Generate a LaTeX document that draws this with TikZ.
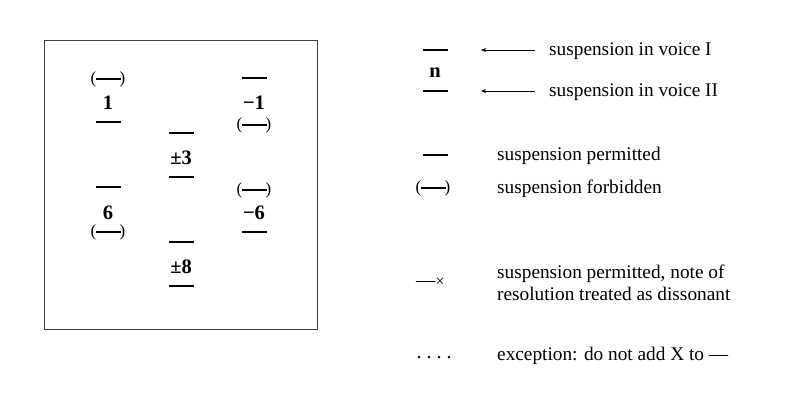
\documentclass[tikz,border=0pt]{standalone}
\usepackage{fontspec}
\setmainfont{Liberation Serif}
\usetikzlibrary{arrows.meta}
\tikzset{
  frame/.style={draw=black!75, line width=1pt},
  bar/.style={fill=black, minimum width=25pt, minimum height=2.6pt, inner sep=0pt, outer sep=0pt},
  plab/.style={inner sep=0pt, font=\fontsize{17}{19}\selectfont},
  pbar/.style={bar, label={[plab, anchor=east, xshift=1pt]west:{(}}, label={[plab, anchor=west, xshift=-1pt]east:{)}}},
  num/.style={inner sep=0pt, font=\fontsize{20.5}{23}\selectfont\bfseries},
  txt/.style={inner sep=0pt, anchor=west, font=\fontsize{19.3}{22}\selectfont},
  arr/.style={-{Stealth[length=5pt, width=4pt]}, line width=0.8pt},
}
\begin{document}
\begin{tikzpicture}[x=1pt, y=-1pt]
\useasboundingbox (0,0) rectangle (800,400);
\draw[frame] (44,40) rectangle (317,329);
% column 1
\node[pbar] (c1a) at (108,79) {};
\node[num] (n1) at (108,103) {1};
\node[bar] (c1b) at (108,122) {};
\node[bar] (c1c) at (108,187) {};
\node[num] (n6) at (108,213) {6};
\node[pbar] (c1d) at (108,232) {};
% column 2
\node[bar] (c2a) at (181,133) {};
\node[num] (n3) at (181,158) {±3};
\node[bar] (c2b) at (181,177) {};
\node[bar] (c2c) at (181,242) {};
\node[num] (n8) at (181,267) {±8};
\node[bar] (c2d) at (181,286) {};
% column 3
\node[bar] (c3a) at (254,78) {};
\node[num] (nm1) at (254,103) {−1};
\node[pbar] (c3b) at (254,125) {};
\node[pbar] (c3c) at (254,190) {};
\node[num] (nm6) at (254,213) {−6};
\node[bar] (c3d) at (254,232) {};
% legend
\node[bar] (lb1) at (435,50) {};
\node[num] (ln) at (435,73) {n};
\node[bar] (lb2) at (435,91) {};
\node[txt] (t1) at (549,51) {suspension in voice I};
\node[txt] (t2) at (549,92) {suspension in voice II};
\coordinate (a1) at (481,50);
\coordinate (a2) at (481,91);
\draw[arr] ([xshift=-14pt, yshift=1pt]t1.west) -- (a1);
\draw[arr] ([xshift=-14pt, yshift=1pt]t2.west) -- (a2);
\node[bar] (lb3) at (435,155) {};
\node[txt] (t3) at (497,156) {suspension permitted};
\node[pbar] (lb4) at (433,188) {};
\node[txt] (t4) at (497,189) {suspension forbidden};
\node[inner sep=0pt, anchor=west, font=\fontsize{19.3}{22}\selectfont] (lx) at (416,282) {—\raisebox{0.5pt}{\fontsize{16}{17}\selectfont×}};
\node[txt, align=left] (t5) at (497,283) {suspension permitted, note of\\resolution treated as dissonant};
\node[inner sep=0pt, font=\fontsize{20}{22}\selectfont] (dots) at (434,358) {.\hspace{5pt}.\hspace{5pt}.\hspace{5pt}.};
\node[txt] (t6) at (497,356) {exception: do not add X to —};
\end{tikzpicture}
\end{document}
